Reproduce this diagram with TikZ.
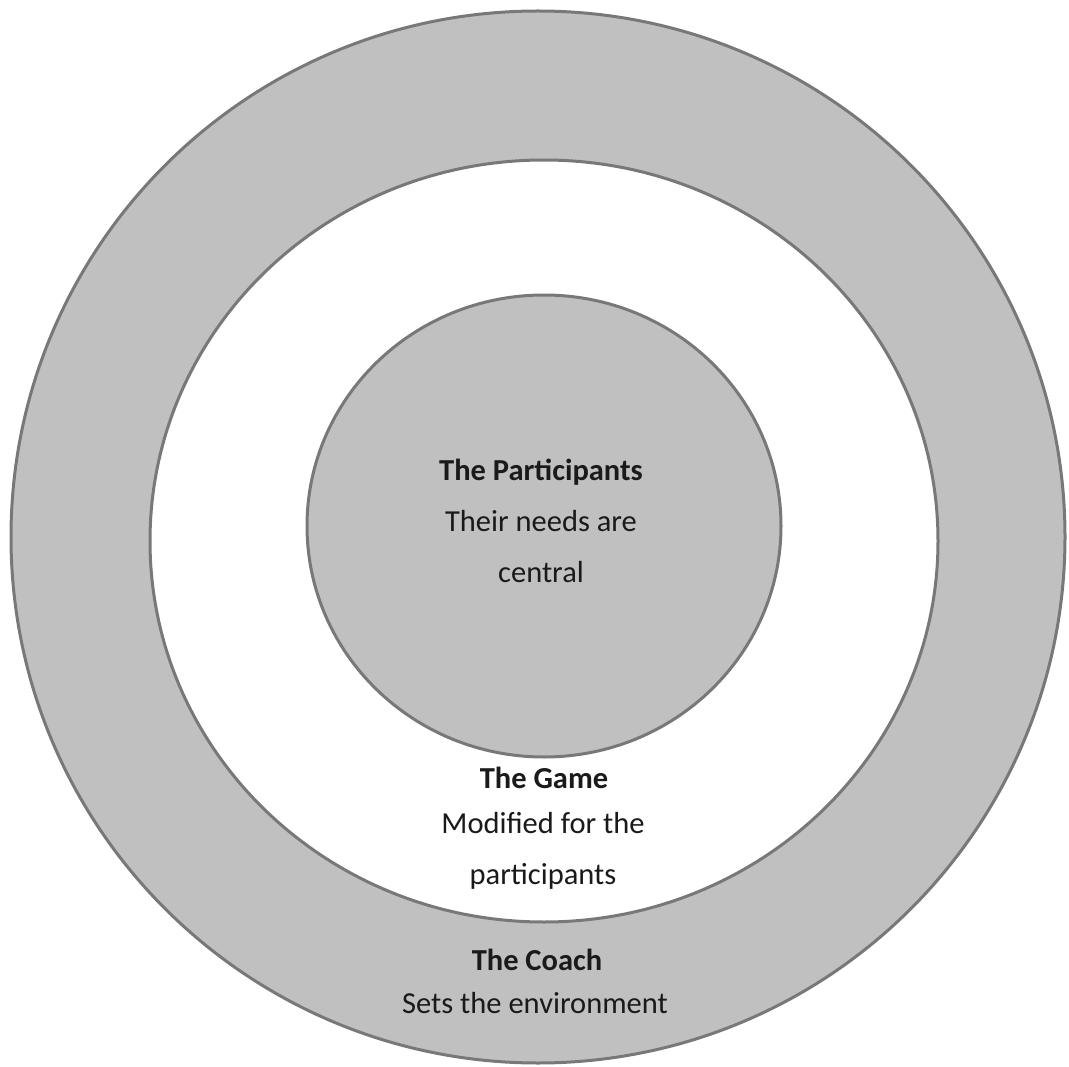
\documentclass[tikz,border=0pt]{standalone}
\usepackage{fontspec}
\setmainfont{Carlito}
\usepackage{tikz}
\usetikzlibrary{positioning}

\definecolor{ringfill}{HTML}{C0C0C0}
\definecolor{ringline}{HTML}{787878}
\definecolor{txt}{HTML}{1A1A1A}

\begin{document}
\begin{tikzpicture}[x=1pt,y=-1pt,
	ring/.style={draw=ringline, fill=ringfill, line width=3pt},
	hole/.style={draw=ringline, fill=white, line width=3pt},
	head/.style={anchor=base, text=txt, inner sep=0pt, font=\fontsize{30.5}{36}\selectfont\bfseries},
	line/.style={anchor=base, text=txt, inner sep=0pt, font=\fontsize{30.5}{36}\selectfont}]
	\useasboundingbox (0,0) rectangle (1069,1067);

	% rings
	\draw[ring] (538,537) ellipse [x radius=527, y radius=526];
	\draw[hole] (544,541) ellipse [x radius=394, y radius=381];
	\draw[ring] (544,526) ellipse [x radius=237, y radius=231];

	% inner
	\node[head] (part) at (541,480) {The Participants};
	\node[line] (partA) at (541,531) {Their needs are};
	\node[line] (partB) at (541,582) {central};

	% middle
	\node[head] (game) at (544,788) {The Game};
	\node[line] (gameA) at (543,833) {Modified for the};
	\node[line] (gameB) at (543,884) {participants};

	% outer
	\node[head] (coach) at (537,970) {The Coach};
	\node[line] (coachA) at (535,1013) {Sets the environment};

\end{tikzpicture}
\end{document}
